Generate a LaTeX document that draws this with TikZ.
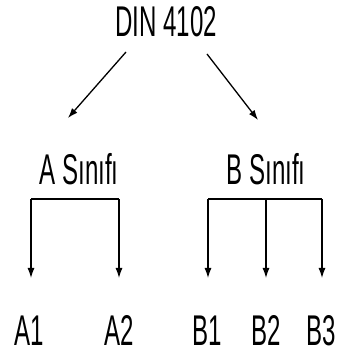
\documentclass[tikz,border=0pt]{standalone}
\usepackage{fontspec}
\setmainfont[FakeStretch=0.56]{Liberation Sans}
\usetikzlibrary{arrows.meta}
\begin{document}
\begin{tikzpicture}[x=1pt,y=1pt,
  lbl/.style={anchor=base,inner sep=0pt,font=\fontsize{43}{43}\selectfont},
  conn/.style={line width=1.3pt,-{Latex[length=10pt,width=7pt]}},
  plain/.style={line width=1.3pt}]
\useasboundingbox (0,0) rectangle (337,354);
\node[lbl] (din) at (166,317) {DIN 4102};
\node[lbl] (as) at (79,169) {A Sınıfı};
\node[lbl] (bs) at (266,169) {B Sınıfı};
\node[lbl] (a1) at (29,9) {A1};
\node[lbl] (a2) at (119,9) {A2};
\node[lbl] (b1) at (207,9) {B1};
\node[lbl] (b2) at (266,9) {B2};
\node[lbl] (b3) at (321,9) {B3};
% connector end points
\coordinate (dl) at (126,302);
\coordinate (al) at (68,236);
\coordinate (dr) at (207,300);
\coordinate (br) at (258,234);
\coordinate (ja1) at (31,155);
\coordinate (ja2) at (119,155);
\coordinate (ta1) at (31,76);
\coordinate (ta2) at (119,76);
\coordinate (jb1) at (208,155);
\coordinate (jb2) at (266,155);
\coordinate (jb3) at (322,155);
\coordinate (tb1) at (208,76);
\coordinate (tb2) at (266,76);
\coordinate (tb3) at (322,76);
\draw[conn] (dl) -- (al);
\draw[conn] (dr) -- (br);
\draw[plain] (ja1) -- (ja2);
\draw[conn] (ja1) -- (ta1);
\draw[conn] (ja2) -- (ta2);
\draw[plain] (jb1) -- (jb3);
\draw[conn] (jb1) -- (tb1);
\draw[conn] (jb2) -- (tb2);
\draw[conn] (jb3) -- (tb3);
\end{tikzpicture}
\end{document}
